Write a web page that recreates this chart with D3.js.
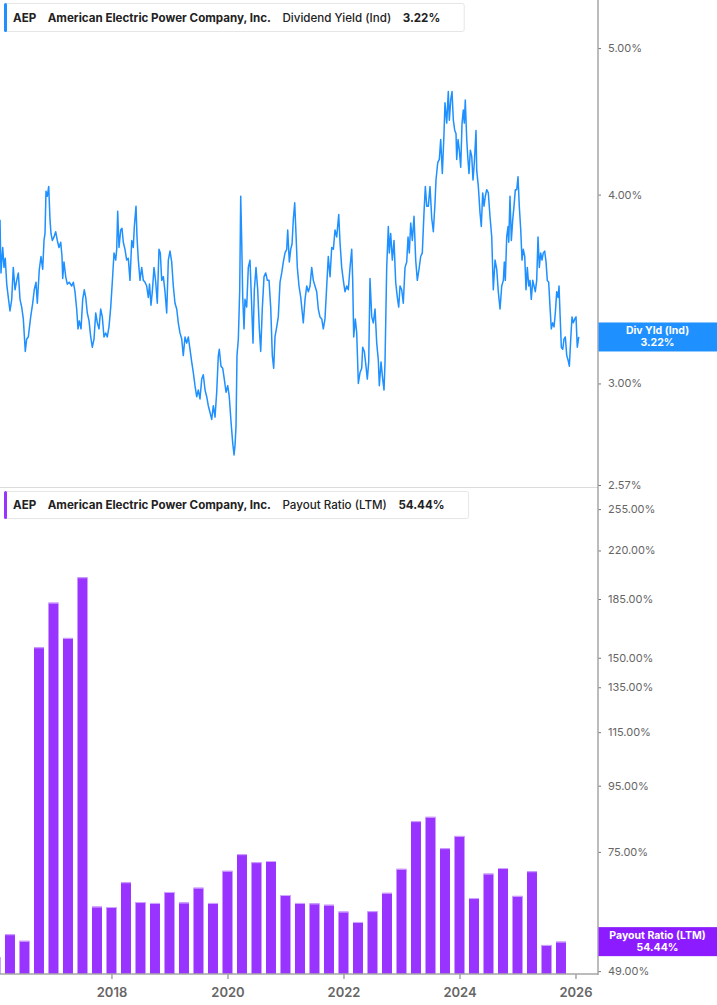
<!DOCTYPE html>
<html>
<head>
<meta charset="utf-8">
<script src="https://cdn.jsdelivr.net/npm/d3@7"></script>
<style>
  body { margin: 0; background: #fff; }
</style>
</head>
<body>
<div id="chart"></div>
<script>
// Dividend yield (indicated), % -- dates as decimal years
var yieldYears = [
 2016.078, 2016.095, 2016.125, 2016.147, 2016.169, 2016.194, 2016.221, 2016.250, 2016.280, 2016.307,
 2016.337, 2016.366, 2016.394, 2016.423, 2016.452, 2016.480, 2016.514, 2016.538, 2016.566, 2016.607,
 2016.642, 2016.669, 2016.699, 2016.721, 2016.756, 2016.785, 2016.814, 2016.837, 2016.854, 2016.871,
 2016.894, 2016.918, 2016.940, 2016.957, 2016.980, 2017.009, 2017.038, 2017.066, 2017.095, 2017.125,
 2017.147, 2017.159, 2017.181, 2017.211, 2017.238, 2017.273, 2017.314, 2017.342, 2017.371, 2017.400,
 2017.423, 2017.445, 2017.475, 2017.504, 2017.531, 2017.556, 2017.583, 2017.613, 2017.642, 2017.669,
 2017.699, 2017.728, 2017.756, 2017.785, 2017.814, 2017.842, 2017.871, 2017.900, 2017.928, 2017.957,
 2017.987, 2018.014, 2018.044, 2018.073, 2018.090, 2018.107, 2018.130, 2018.159, 2018.181, 2018.204,
 2018.233, 2018.262, 2018.290, 2018.319, 2018.349, 2018.376, 2018.394, 2018.423, 2018.440, 2018.463,
 2018.492, 2018.521, 2018.549, 2018.578, 2018.607, 2018.635, 2018.656, 2018.681, 2018.704, 2018.733,
 2018.763, 2018.790, 2018.819, 2018.842, 2018.866, 2018.894, 2018.923, 2018.952, 2018.980, 2019.009,
 2019.038, 2019.066, 2019.095, 2019.125, 2019.152, 2019.181, 2019.211, 2019.238, 2019.268, 2019.297,
 2019.325, 2019.354, 2019.383, 2019.411, 2019.440, 2019.469, 2019.497, 2019.526, 2019.556, 2019.583,
 2019.613, 2019.642, 2019.669, 2019.699, 2019.728, 2019.756, 2019.785, 2019.814, 2019.842, 2019.859,
 2019.888, 2019.918, 2019.945, 2019.975, 2020.004, 2020.031, 2020.061, 2020.090, 2020.113, 2020.130,
 2020.147, 2020.164, 2020.187, 2020.211, 2020.228, 2020.245, 2020.263, 2020.285, 2020.302, 2020.331,
 2020.359, 2020.388, 2020.418, 2020.440, 2020.463, 2020.492, 2020.521, 2020.549, 2020.573, 2020.600,
 2020.630, 2020.659, 2020.687, 2020.716, 2020.745, 2020.773, 2020.797, 2020.819, 2020.849, 2020.876,
 2020.906, 2020.935, 2020.963, 2020.992, 2021.021, 2021.038, 2021.066, 2021.090, 2021.113, 2021.135,
 2021.159, 2021.181, 2021.204, 2021.233, 2021.263, 2021.290, 2021.307, 2021.337, 2021.366, 2021.394,
 2021.423, 2021.452, 2021.480, 2021.509, 2021.538, 2021.566, 2021.595, 2021.625, 2021.652, 2021.681,
 2021.711, 2021.738, 2021.768, 2021.797, 2021.825, 2021.854, 2021.883, 2021.918, 2021.940, 2021.969,
 2021.997, 2022.026, 2022.056, 2022.083, 2022.113, 2022.142, 2022.159, 2022.176, 2022.204, 2022.228,
 2022.256, 2022.285, 2022.314, 2022.331, 2022.359, 2022.388, 2022.411, 2022.435, 2022.457, 2022.487,
 2022.514, 2022.544, 2022.573, 2022.600, 2022.618, 2022.647, 2022.676, 2022.699, 2022.716, 2022.745,
 2022.773, 2022.790, 2022.814, 2022.842, 2022.871, 2022.900, 2022.928, 2022.952, 2022.975, 2023.004,
 2023.031, 2023.061, 2023.090, 2023.113, 2023.135, 2023.159, 2023.187, 2023.216, 2023.245, 2023.273,
 2023.302, 2023.331, 2023.359, 2023.388, 2023.411, 2023.435, 2023.463, 2023.492, 2023.521, 2023.549,
 2023.578, 2023.595, 2023.625, 2023.652, 2023.676, 2023.704, 2023.733, 2023.750, 2023.780, 2023.807,
 2023.825, 2023.849, 2023.871, 2023.894, 2023.918, 2023.940, 2023.952, 2023.975, 2023.997, 2024.021,
 2024.044, 2024.066, 2024.083, 2024.100, 2024.125, 2024.142, 2024.164, 2024.187, 2024.211, 2024.233,
 2024.256, 2024.285, 2024.297, 2024.325, 2024.354, 2024.376, 2024.400, 2024.423, 2024.445, 2024.469,
 2024.497, 2024.526, 2024.556, 2024.583, 2024.613, 2024.642, 2024.669, 2024.699, 2024.728, 2024.756,
 2024.773, 2024.790, 2024.814, 2024.837, 2024.849, 2024.871, 2024.894, 2024.918, 2024.940, 2024.963,
 2024.987, 2025.009, 2025.031, 2025.056, 2025.078, 2025.100, 2025.125, 2025.147, 2025.169, 2025.194,
 2025.216, 2025.238, 2025.263, 2025.285, 2025.307, 2025.331, 2025.354, 2025.376, 2025.400, 2025.423,
 2025.445, 2025.469, 2025.492, 2025.514, 2025.538, 2025.561, 2025.583, 2025.607, 2025.630, 2025.652,
 2025.676, 2025.699, 2025.716, 2025.733, 2025.756, 2025.780, 2025.802, 2025.825, 2025.849, 2025.871,
 2025.894, 2025.918, 2025.940, 2025.963, 2025.987, 2026.009, 2026.031, 2026.056
];
var yieldValues = [
 3.85, 3.55, 3.69, 3.58, 3.63, 3.49, 3.42, 3.35, 3.41, 3.58,
 3.46, 3.51, 3.55, 3.41, 3.37, 3.31, 3.15, 3.21, 3.22, 3.32,
 3.39, 3.46, 3.50, 3.39, 3.57, 3.64, 3.57, 3.73, 3.77, 4.02,
 3.99, 4.05, 3.85, 3.77, 3.73, 3.75, 3.78, 3.73, 3.69, 3.72,
 3.64, 3.52, 3.61, 3.53, 3.49, 3.50, 3.48, 3.50, 3.45, 3.36,
 3.26, 3.30, 3.26, 3.41, 3.46, 3.42, 3.34, 3.30, 3.22, 3.17,
 3.21, 3.34, 3.29, 3.26, 3.36, 3.32, 3.22, 3.24, 3.22, 3.27,
 3.37, 3.50, 3.66, 3.62, 3.68, 3.90, 3.69, 3.79, 3.80, 3.72,
 3.68, 3.62, 3.63, 3.51, 3.73, 3.69, 3.81, 3.93, 3.75, 3.62,
 3.51, 3.58, 3.51, 3.50, 3.48, 3.42, 3.49, 3.38, 3.45, 3.58,
 3.50, 3.39, 3.68, 3.66, 3.51, 3.53, 3.45, 3.34, 3.62, 3.67,
 3.61, 3.48, 3.39, 3.36, 3.29, 3.24, 3.21, 3.13, 3.22, 3.19,
 3.22, 3.16, 3.10, 3.05, 2.99, 2.94, 2.97, 2.93, 3.02, 3.04,
 2.97, 2.94, 2.90, 2.87, 2.84, 2.90, 2.85, 2.96, 3.13, 3.16,
 3.08, 3.07, 3.02, 2.96, 2.99, 2.94, 2.83, 2.74, 2.69, 2.73,
 2.81, 3.13, 3.21, 3.46, 3.99, 3.73, 3.42, 3.26, 3.41, 3.37,
 3.58, 3.62, 3.37, 3.19, 3.46, 3.58, 3.46, 3.26, 3.15, 3.36,
 3.53, 3.55, 3.51, 3.51, 3.37, 3.13, 3.07, 3.22, 3.27, 3.32,
 3.50, 3.55, 3.61, 3.66, 3.68, 3.79, 3.61, 3.68, 3.71, 3.85,
 3.95, 3.77, 3.58, 3.48, 3.42, 3.34, 3.29, 3.41, 3.48, 3.45,
 3.48, 3.58, 3.51, 3.48, 3.45, 3.36, 3.32, 3.31, 3.26, 3.31,
 3.48, 3.64, 3.53, 3.69, 3.68, 3.79, 3.75, 3.88, 3.72, 3.58,
 3.51, 3.45, 3.48, 3.46, 3.58, 3.68, 3.51, 3.22, 3.31, 3.24,
 3.00, 3.05, 3.07, 3.17, 3.15, 3.08, 3.02, 3.10, 3.52, 3.32,
 3.29, 3.36, 3.19, 3.11, 2.99, 3.10, 3.02, 2.97, 3.10, 3.58,
 3.81, 3.66, 3.77, 3.62, 3.73, 3.50, 3.42, 3.37, 3.48, 3.46,
 3.39, 3.58, 3.61, 3.75, 3.66, 3.83, 3.73, 3.87, 3.62, 3.51,
 3.57, 3.64, 3.66, 3.89, 4.05, 3.93, 3.93, 4.05, 3.86, 3.78,
 3.95, 4.09, 4.20, 4.22, 4.35, 4.13, 4.39, 4.60, 4.46, 4.68,
 4.48, 4.62, 4.68, 4.48, 4.41, 4.39, 4.22, 4.35, 4.28, 4.17,
 4.46, 4.55, 4.46, 4.62, 4.35, 4.24, 4.13, 4.28, 4.24, 4.09,
 4.20, 4.41, 4.15, 4.05, 3.89, 3.81, 4.01, 3.93, 3.99, 4.03,
 4.01, 3.87, 3.75, 3.46, 3.62, 3.57, 3.45, 3.36, 3.48, 3.51,
 3.61, 3.51, 3.75, 3.81, 3.72, 3.99, 3.73, 3.85, 3.93, 4.03,
 4.03, 4.11, 3.93, 3.79, 3.62, 3.68, 3.64, 3.46, 3.58, 3.48,
 3.51, 3.41, 3.51, 3.48, 3.45, 3.51, 3.75, 3.58, 3.66, 3.62,
 3.66, 3.67, 3.61, 3.51, 3.50, 3.37, 3.26, 3.29, 3.27, 3.34,
 3.45, 3.42, 3.48, 3.34, 3.17, 3.16, 3.21, 3.22, 3.13, 3.11,
 3.08, 3.21, 3.32, 3.29, 3.31, 3.32, 3.17, 3.22
];

// Payout ratio (LTM), %, by fiscal quarter end
var payoutQuarters = [
 "2015 Q4",
 "2016 Q1", "2016 Q2", "2016 Q3", "2016 Q4",
 "2017 Q1", "2017 Q2", "2017 Q3", "2017 Q4",
 "2018 Q1", "2018 Q2", "2018 Q3", "2018 Q4",
 "2019 Q1", "2019 Q2", "2019 Q3", "2019 Q4",
 "2020 Q1", "2020 Q2", "2020 Q3", "2020 Q4",
 "2021 Q1", "2021 Q2", "2021 Q3", "2021 Q4",
 "2022 Q1", "2022 Q2", "2022 Q3", "2022 Q4",
 "2023 Q1", "2023 Q2", "2023 Q3", "2023 Q4",
 "2024 Q1", "2024 Q2", "2024 Q3", "2024 Q4",
 "2025 Q1", "2025 Q2", "2025 Q3"
];
var payoutValues = [
 51.5,
 55.9, 54.6, 155.7, 182.6,
 161.0, 199.9, 61.7, 61.6,
 67.3, 62.7, 62.5, 65.0,
 62.6, 66.0, 62.5, 70.1,
 74.4, 72.3, 72.6, 64.3,
 62.5, 62.4, 62.1, 60.6,
 58.4, 60.7, 64.8, 70.6,
 83.7, 85.0, 76.0, 79.4,
 63.6, 69.4, 70.8, 64.1,
 70.0, 53.8, 54.44
];

var yieldTicks = [2.57, 3, 4, 5];
var payoutTicks = [49, 75, 95, 115, 135, 150, 185, 220, 255];
var yearTicks = [2018, 2020, 2022, 2024, 2026];

var ticker = "AEP";
var company = "American Electric Power Company, Inc.";
var yieldName = "Dividend Yield (Ind)";
var payoutName = "Payout Ratio (LTM)";
var yieldLast = 3.22;
var payoutLast = 54.44;

var blue = "#1e90ff";
var purple = "#9933ff";
var purpleTag = "#8c1cff";
var axisGray = "#a6a6a6";
var textGray = "#666";

var W = 717, H = 1005;
var plotRight = 598;
var topBottom = 485, botTop = 490, botBottom = 974;

var svg = d3.select("#chart").append("svg")
  .attr("width", W)
  .attr("height", H)
  .style("font-family", "Inter, 'Noto Sans', sans-serif");

var x = d3.scaleLinear().domain([2016.078, 2026.388]).range([0, plotRight]);
var yTop = d3.scaleLog().domain([2.57, 5.38]).range([topBottom, 0]);
var yBot = d3.scaleLog().domain([48.5, 273]).range([botBottom, botTop]);

var defs = svg.append("defs");
defs.append("clipPath").attr("id", "clipTop").append("rect")
  .attr("x", 0).attr("y", 0).attr("width", plotRight).attr("height", topBottom + 1);
defs.append("clipPath").attr("id", "clipBot").append("rect")
  .attr("x", 0).attr("y", botTop).attr("width", plotRight).attr("height", botBottom - botTop);

// panel separator
svg.append("line")
  .attr("x1", 0).attr("x2", plotRight)
  .attr("y1", 487.5).attr("y2", 487.5)
  .attr("stroke", "#dcdcdc").attr("stroke-width", 1);

// ---- top panel: dividend yield line
var yieldLine = d3.line()
  .x(function(d, i){ return x(yieldYears[i]); })
  .y(function(d){ return yTop(d); });

svg.append("path")
  .datum(yieldValues)
  .attr("clip-path", "url(#clipTop)")
  .attr("d", yieldLine)
  .attr("fill", "none")
  .attr("stroke", blue)
  .attr("stroke-width", 1.5)
  .attr("stroke-linejoin", "round");

// ---- bottom panel: payout ratio bars
function quarterEnd(q){
  var p = q.split(" Q");
  return +p[0] + (+p[1]) / 4;
}
var barHalf = 0.086;

var bars = svg.append("g").attr("clip-path", "url(#clipBot)");
bars.selectAll("rect")
  .data(payoutValues)
  .enter().append("rect")
  .attr("x", function(d, i){ return x(quarterEnd(payoutQuarters[i]) - barHalf); })
  .attr("width", function(d, i){
    var t = quarterEnd(payoutQuarters[i]);
    return x(t + barHalf) - x(t - barHalf);
  })
  .attr("y", function(d){ return yBot(d); })
  .attr("height", function(d){ return botBottom - yBot(d); })
  .attr("fill", purple);

bars.selectAll("line")
  .data(payoutValues)
  .enter().append("line")
  .attr("x1", function(d, i){ return x(quarterEnd(payoutQuarters[i]) - barHalf); })
  .attr("x2", function(d, i){ return x(quarterEnd(payoutQuarters[i]) + barHalf); })
  .attr("y1", function(d){ return yBot(d) + 0.5; })
  .attr("y2", function(d){ return yBot(d) + 0.5; })
  .attr("stroke", "#d2a8ff")
  .attr("stroke-width", 1);

// ---- axes
var pct = function(d){ return d.toFixed(2) + "%"; };

function styleAxis(g, size, weight){
  g.select(".domain").remove();
  g.selectAll(".tick line").attr("stroke", "#777");
  g.selectAll(".tick text")
    .attr("fill", textGray)
    .style("font-size", size + "px")
    .style("font-weight", weight)
    .style("font-family", "Inter, 'Noto Sans', sans-serif");
}

svg.append("g")
  .attr("transform", "translate(" + plotRight + ",0)")
  .call(d3.axisRight(yTop).tickValues(yieldTicks).tickFormat(pct).tickSize(3).tickPadding(7))
  .call(styleAxis, 11, 400);

svg.append("g")
  .attr("transform", "translate(" + plotRight + ",0)")
  .call(d3.axisRight(yBot).tickValues(payoutTicks).tickFormat(pct).tickSize(3).tickPadding(7))
  .call(styleAxis, 11, 400);

svg.append("g")
  .attr("transform", "translate(0," + botBottom + ")")
  .call(d3.axisBottom(x).tickValues(yearTicks).tickFormat(d3.format("d")).tickSize(5).tickPadding(9))
  .call(styleAxis, 13, 600);

// axis lines
svg.append("line")
  .attr("x1", plotRight).attr("x2", plotRight)
  .attr("y1", 0).attr("y2", botBottom + 1)
  .attr("stroke", axisGray).attr("stroke-width", 1.5);
svg.append("line")
  .attr("x1", 0).attr("x2", plotRight)
  .attr("y1", botBottom).attr("y2", botBottom)
  .attr("stroke", axisGray).attr("stroke-width", 1.5);

// ---- last value tags on the right axis
function valueTag(yPos, color, label, value){
  var g = svg.append("g");
  g.append("rect")
    .attr("x", plotRight + 0.5).attr("y", yPos - 14.5)
    .attr("width", W - plotRight).attr("height", 29)
    .attr("fill", color);
  var cx = (plotRight + W) / 2;
  g.append("text").attr("x", cx).attr("y", yPos - 3)
    .attr("text-anchor", "middle").attr("fill", "#fff")
    .style("font-size", "10.5px").style("font-weight", 700)
    .text(label);
  g.append("text").attr("x", cx).attr("y", yPos + 9)
    .attr("text-anchor", "middle").attr("fill", "#fff")
    .style("font-size", "10.5px").style("font-weight", 700)
    .text(value);
}
valueTag(yTop(yieldLast), blue, "Div Yld (Ind)", pct(yieldLast));
valueTag(yBot(payoutLast), purpleTag, "Payout Ratio (LTM)", pct(payoutLast));

// ---- legends
function legend(y0, h, color, parts){
  var g = svg.append("g");
  var box = g.append("rect")
    .attr("x", 4.5).attr("y", y0 + 0.5)
    .attr("height", h).attr("rx", 2)
    .attr("fill", "#fff").attr("stroke", "#e6e6e6");
  g.append("rect")
    .attr("x", 4).attr("y", y0)
    .attr("width", 3).attr("height", h + 1).attr("rx", 1.5)
    .attr("fill", color);
  var cx = 13, end = cx;
  parts.forEach(function(p){
    var t = g.append("text")
      .attr("x", cx).attr("y", y0 + h / 2 + 4.5)
      .attr("fill", "#222")
      .style("font-size", "11.6px").style("font-weight", p.w)
      .text(p.s);
    end = cx + t.node().getComputedTextLength();
    cx = end + 11.5;
  });
  box.attr("width", end + 24 - 4.5);
}
legend(3, 28, blue, [
  {s: ticker, w: 700}, {s: company, w: 700},
  {s: yieldName, w: 500}, {s: pct(yieldLast), w: 700}
]);
legend(491, 27, purple, [
  {s: ticker, w: 700}, {s: company, w: 700},
  {s: payoutName, w: 500}, {s: pct(payoutLast), w: 700}
]);
</script>
</body>
</html>
